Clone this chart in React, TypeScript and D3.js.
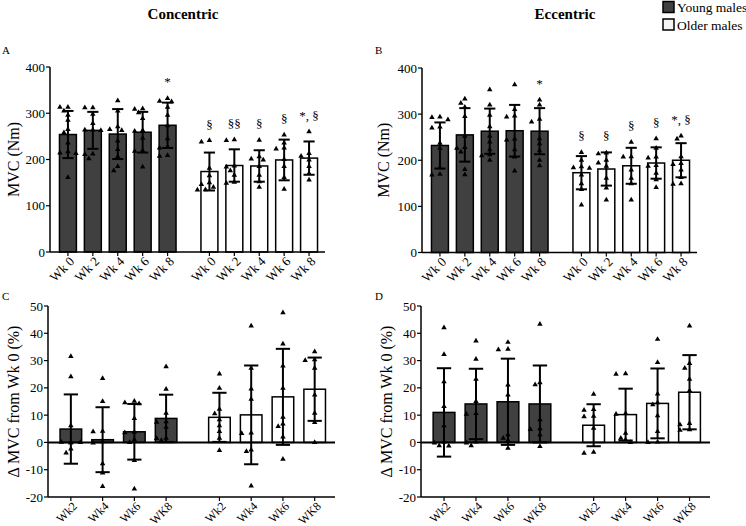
import * as d3 from "d3";

// ---- categories ----
const WEEKS_TOP = ["Wk 0", "Wk 2", "Wk 4", "Wk 6", "Wk 8"];
const WEEKS_BOTTOM = ["Wk2", "Wk4", "Wk6", "WK8"];
const TICKS_MVC = [0, 100, 200, 300, 400];
const TICKS_DELTA = [-20, -10, 0, 10, 20, 30, 40, 50];

// ---- A: concentric MVC (Nm) ----
const A_YOUNG_MEAN = [254, 263, 255, 259, 274];
const A_YOUNG_SD = [51, 40, 54, 44, 49];
const A_OLDER_MEAN = [174, 187, 186, 199, 203];
const A_OLDER_SD = [41, 35, 34, 44, 36];
const A_YOUNG_PTS = [
  [313, 313, 305, 296, 285, 265, 258, 236, 217, 214, 213, 161],
  [312, 312, 298, 278, 264, 264, 263, 212, 211, 202],
  [327, 305, 271, 265, 263, 240, 222, 206, 185, 176],
  [310, 309, 301, 289, 263, 261, 246, 219, 218, 184],
  [332, 326, 325, 313, 296, 273, 245, 227, 225, 209, 207],
];
const A_OLDER_PTS = [
  [241, 238, 181, 165, 150, 146, 140, 135, 134],
  [243, 241, 186, 184, 176, 166, 151, 149],
  [242, 206, 201, 199, 185, 166, 152, 140],
  [253, 236, 225, 223, 200, 185, 161, 136],
  [260, 213, 207, 199, 185, 170, 156],
];
const A_YOUNG_MARK = ["", "", "", "", "*"];
const A_OLDER_MARK = ["§", "§§", "§", "§", "*, §"];

// ---- B: eccentric MVC (Nm) ----
const B_YOUNG_MEAN = [232, 255, 263, 264, 263];
const B_YOUNG_SD = [50, 58, 49, 56, 50];
const B_OLDER_MEAN = [173, 181, 188, 194, 200];
const B_OLDER_SD = [36, 36, 39, 34, 37];
const B_YOUNG_PTS = [
  [294, 293, 288, 272, 270, 237, 226, 184, 170, 168],
  [333, 324, 315, 295, 252, 228, 226, 218, 180, 169],
  [353, 320, 298, 273, 252, 240, 223, 212, 210, 200],
  [364, 310, 296, 294, 246, 244, 223, 207, 177],
  [331, 320, 289, 283, 247, 236, 221, 200, 188],
];
const B_OLDER_PTS = [
  [217, 200, 186, 184, 183, 168, 149, 137, 103],
  [216, 214, 200, 194, 187, 161, 140, 114],
  [239, 208, 207, 179, 161, 149, 114],
  [247, 226, 207, 205, 189, 187, 172, 158, 141],
  [253, 246, 208, 193, 191, 179, 163, 149, 148],
];
const B_YOUNG_MARK = ["", "", "", "", "*"];
const B_OLDER_MARK = ["§", "§", "§", "§", "*, §"];

// ---- C: concentric change from Wk 0 (%) ----
const C_YOUNG_MEAN = [4.9, 1.0, 3.9, 8.8];
const C_YOUNG_SD = [12.7, 11.9, 10.2, 8.7];
const C_OLDER_MEAN = [9.2, 10.1, 16.7, 19.5];
const C_OLDER_SD = [9.0, 18.1, 17.6, 11.6];
const C_YOUNG_PTS = [
  [31.5, 24.1, 6.1, 0.2, 0, -0.2, 0.1, -2.4, -3.8],
  [23.5, 15, 4.1, 3.9, 0.3, -0.2, -7.8, -11.2, -16.1],
  [15.1, 14.6, 14.2, 8.8, 3.8, 3.6, 1, 0, -6.6, -17],
  [27.8, 19.5, 10.7, 7.6, 7.4, 5.6, 1.6, 1.5, 0.7],
];
const C_OLDER_PTS = [
  [25.1, 19.9, 12.2, 10.5, 8.3, 6.1, 4, 1.6, -2.9],
  [42.7, 27.2, 19.6, 15.9, 3.5, 3.3, -2.7, -3.3, -15.9],
  [47.6, 36.1, 28, 19.9, 9.3, 6.8, 5.9, 2, -6.1],
  [33.3, 30.3, 30.1, 27.2, 17.4, 10.7, 7.3, 0],
];

// ---- D: eccentric change from Wk 0 (%) ----
const D_YOUNG_MEAN = [11.0, 14.1, 14.9, 14.1];
const D_YOUNG_SD = [16.2, 12.9, 15.8, 14.1];
const D_OLDER_MEAN = [6.3, 10.2, 14.3, 18.4];
const D_OLDER_SD = [7.7, 9.5, 12.8, 13.6];
const D_YOUNG_PTS = [
  [42.1, 32.3, 22.3, 13.2, 6.1, 0.2, -0.2, -1.2, -1.3],
  [37.2, 30.5, 23.2, 15, 10.6, 10.4, 0.2, -0.2, -1.2],
  [36.7, 34.2, 34, 21.1, 17.4, 2.8, 1.6, 0.7, -2.1],
  [43.3, 21.9, 21.2, 8.3, 5, 4.8, 2.8, -1.5],
];
const D_OLDER_PTS = [
  [17.7, 12.1, 11.8, 9.6, 9.4, 5.2, -3.6, -3.9],
  [25.2, 25, 10.6, 10.4, 3.4, 1.6, 1, 0],
  [37.8, 29.3, 17.8, 14.6, 13.8, 9.8, 4, 0.2, 0],
  [42.7, 29, 27.2, 23.2, 19, 7, 6.5, 4.7, 4.5],
];

const LEGEND = ["Young males", "Older males"];
const FONT = "'Liberation Serif', 'Times New Roman', serif";
const DARK = "#404040";

const tri = d3.symbol(d3.symbolTriangle, 13)() as string;

interface Group {
  mean: number[];
  sd: number[];
  pts: number[][];
  marks?: string[];
}

interface PanelProps {
  left: number;
  right: number;
  top: number;
  bottom: number;
  yDomain: [number, number];
  yTicks: number[];
  cats: string[];
  young: Group;
  older: Group;
  yLabel: string;
  labelX: number;
  letter: string;
  letterX: number;
  letterY: number;
  tickFont: number;
  zeroLine?: boolean;
}

// simple beeswarm dodge so triangles sitting at the same value spread sideways
function dodge(vals: number[], y: (v: number) => number, step: number, r: number) {
  const placed: { x: number; y: number }[] = [];
  return [...vals]
    .sort((a, b) => b - a)
    .map((v) => {
      const py = y(v);
      for (const k of [0, -1, 1, -2, 2, -3, 3]) {
        const px = k * step;
        if (placed.every((p) => Math.hypot(p.x - px, p.y - py) >= r)) {
          placed.push({ x: px, y: py });
          return { dx: px, py };
        }
      }
      return { dx: 0, py };
    });
}

function Panel(p: PanelProps) {
  const n = p.cats.length;
  const x = d3.scaleLinear().domain([-0.38, 2 * n + 0.66]).range([p.left, p.right]);
  const y = d3.scaleLinear().domain(p.yDomain).range([p.bottom, p.top]);
  const bw = x(0.68) - x(0);
  const capW = bw * 0.66;
  const step = Math.max(4, bw * 0.22);
  const groups = [
    { g: p.young, fill: DARK, pos: (i: number) => i },
    { g: p.older, fill: "#fff", pos: (i: number) => n + 0.68 + i },
  ];
  const base = y(Math.max(0, p.yDomain[0]));
  const midY = (p.top + p.bottom) / 2;

  return (
    <g fontFamily={FONT}>
      <text x={p.letterX} y={p.letterY} fontSize={11} fill="#000">
        {p.letter}
      </text>
      <text
        transform={`translate(${p.labelX},${midY}) rotate(-90)`}
        textAnchor="middle"
        fontSize={16}
        fill="#000"
      >
        {p.yLabel}
      </text>

      {groups.map(({ g, fill, pos }, gi) =>
        p.cats.map((c, i) => {
          const bx = x(pos(i));
          const cx = bx + bw / 2;
          const m = g.mean[i];
          const s = g.sd[i];
          const swarm = dodge(g.pts[i], y, step, 5);
          const topVal = Math.max(m + s, d3.max(g.pts[i]) ?? m);
          const mark = g.marks?.[i];
          return (
            <g key={`${gi}-${i}`}>
              <rect
                x={bx}
                y={Math.min(y(m), base)}
                width={bw}
                height={Math.abs(base - y(m))}
                fill={fill}
                stroke="#000"
                strokeWidth={1.5}
              />
              {swarm.map((d, k) => (
                <path key={k} d={tri} transform={`translate(${cx + d.dx},${d.py})`} fill="#000" />
              ))}
              <line x1={cx} x2={cx} y1={y(m - s)} y2={y(m + s)} stroke="#000" strokeWidth={2} />
              <line x1={cx - capW / 2} x2={cx + capW / 2} y1={y(m + s)} y2={y(m + s)} stroke="#000" strokeWidth={2} />
              <line x1={cx - capW / 2} x2={cx + capW / 2} y1={y(m - s)} y2={y(m - s)} stroke="#000" strokeWidth={2} />
              {mark ? (
                <text x={cx} y={y(topVal) - 12} textAnchor="middle" fontSize={13} fill="#000">
                  {mark}
                </text>
              ) : null}
              <line x1={cx} x2={cx} y1={p.bottom} y2={p.bottom + 4} stroke="#000" strokeWidth={1.2} />
              <text
                transform={`translate(${cx + 4},${p.bottom + 7}) rotate(-45)`}
                textAnchor="end"
                dy="0.35em"
                fontSize={p.tickFont}
                fill="#000"
              >
                {c}
              </text>
            </g>
          );
        })
      )}

      {/* axes */}
      <line x1={p.left} x2={p.left} y1={p.top} y2={p.bottom} stroke="#000" strokeWidth={1.5} />
      <line x1={p.left} x2={p.right} y1={p.bottom} y2={p.bottom} stroke="#000" strokeWidth={1.5} />
      {p.zeroLine ? (
        <line x1={p.left} x2={p.right} y1={y(0)} y2={y(0)} stroke="#000" strokeWidth={2} />
      ) : null}
      {p.yTicks.map((t) => (
        <g key={t} transform={`translate(${p.left},${y(t)})`}>
          <line x1={-4} x2={0} stroke="#000" strokeWidth={1.2} />
          <text x={-5} dy="0.35em" textAnchor="end" fontSize={13} fill="#000">
            {t}
          </text>
        </g>
      ))}
    </g>
  );
}

export default function App() {
  return (
    <svg
      width={746}
      height={526}
      style={{ position: "absolute", left: 0, top: 0, background: "#fff" }}
    >
      <text x={183} y={19} textAnchor="middle" fontFamily={FONT} fontWeight="bold" fontSize={15} fill="#000">
        Concentric
      </text>
      <text x={565} y={19} textAnchor="middle" fontFamily={FONT} fontWeight="bold" fontSize={15} fill="#000">
        Eccentric
      </text>

      {LEGEND.map((l, i) => (
        <g key={l} transform={`translate(663,${1.5 + i * 17.5})`}>
          <rect width={11} height={11} fill={i === 0 ? DARK : "#f4f4f4"} stroke="#000" strokeWidth={1.5} />
          <text x={14} y={10.5} fontFamily={FONT} fontSize={13.5} fill="#000">
            {l}
          </text>
        </g>
      ))}

      <Panel
        left={50}
        right={325}
        top={67}
        bottom={252}
        yDomain={[0, 400]}
        yTicks={TICKS_MVC}
        cats={WEEKS_TOP}
        young={{ mean: A_YOUNG_MEAN, sd: A_YOUNG_SD, pts: A_YOUNG_PTS, marks: A_YOUNG_MARK }}
        older={{ mean: A_OLDER_MEAN, sd: A_OLDER_SD, pts: A_OLDER_PTS, marks: A_OLDER_MARK }}
        yLabel="MVC (Nm)"
        labelX={19}
        letter="A"
        letterX={2}
        letterY={54}
        tickFont={13}
      />
      <Panel
        left={422}
        right={697}
        top={68}
        bottom={252.5}
        yDomain={[0, 400]}
        yTicks={TICKS_MVC}
        cats={WEEKS_TOP}
        young={{ mean: B_YOUNG_MEAN, sd: B_YOUNG_SD, pts: B_YOUNG_PTS, marks: B_YOUNG_MARK }}
        older={{ mean: B_OLDER_MEAN, sd: B_OLDER_SD, pts: B_OLDER_PTS, marks: B_OLDER_MARK }}
        yLabel="MVC (Nm)"
        labelX={389}
        letter="B"
        letterX={375}
        letterY={54}
        tickFont={13}
      />
      <Panel
        left={48}
        right={335}
        top={306}
        bottom={497}
        yDomain={[-20, 50]}
        yTicks={TICKS_DELTA}
        cats={WEEKS_BOTTOM}
        young={{ mean: C_YOUNG_MEAN, sd: C_YOUNG_SD, pts: C_YOUNG_PTS }}
        older={{ mean: C_OLDER_MEAN, sd: C_OLDER_SD, pts: C_OLDER_PTS }}
        yLabel="Δ MVC from Wk 0 (%)"
        labelX={19}
        letter="C"
        letterX={2}
        letterY={300}
        tickFont={12}
        zeroLine
      />
      <Panel
        left={421}
        right={710}
        top={306}
        bottom={497}
        yDomain={[-20, 50]}
        yTicks={TICKS_DELTA}
        cats={WEEKS_BOTTOM}
        young={{ mean: D_YOUNG_MEAN, sd: D_YOUNG_SD, pts: D_YOUNG_PTS }}
        older={{ mean: D_OLDER_MEAN, sd: D_OLDER_SD, pts: D_OLDER_PTS }}
        yLabel="Δ MVC from Wk 0 (%)"
        labelX={392}
        letter="D"
        letterX={375}
        letterY={300}
        tickFont={12}
        zeroLine
      />
    </svg>
  );
}
